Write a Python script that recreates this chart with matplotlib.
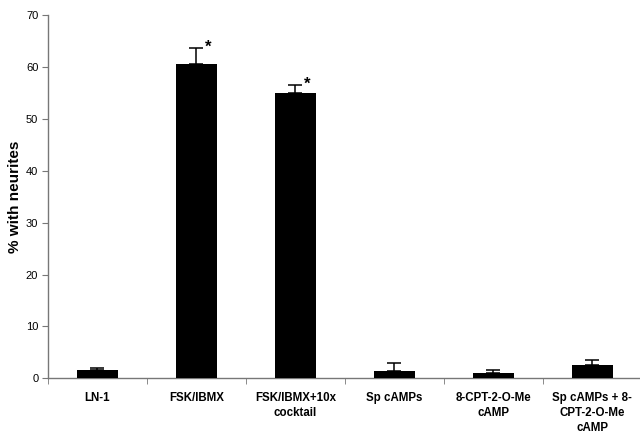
import matplotlib
matplotlib.use("Agg")
import matplotlib.pyplot as plt
import numpy as np

categories = ["LN-1", "FSK/IBMX", "FSK/IBMX+10x\ncocktail", "Sp cAMPs",
              "8-CPT-2-O-Me\ncAMP", "Sp cAMPs + 8-\nCPT-2-O-Me\ncAMP"]
values = [1.6, 60.5, 55.0, 1.5, 1.1, 2.5]
errors = [0.3, 3.2, 1.6, 1.4, 0.45, 1.0]
significant = [False, True, True, False, False, False]
yticks = [0, 10, 20, 30, 40, 50, 60, 70]

plt.rcParams['font.family'] = ['Liberation Sans', 'DejaVu Sans']

fig = plt.figure(figsize=(6.4, 4.33), dpi=100)
ax = fig.add_axes([0.075, 0.1263, 0.928, 0.8391])

x = np.arange(len(categories))
ax.bar(x, values, width=0.41, color='black', zorder=3)
ax.errorbar(x, values, yerr=[np.zeros(len(errors)), errors], fmt='none',
            ecolor='black', elinewidth=1.1, capsize=5, capthick=1.1, zorder=4)
for xi, v, e, s in zip(x, values, errors, significant):
    if s:
        ax.text(xi + 0.12, v + e - 1.4, "*", ha='center', va='bottom',
                fontsize=12, fontweight='bold')

ax.set_xlim(-0.5, len(categories) - 0.5)
ax.set_ylim(0, 70)
ax.set_yticks(yticks)
ax.set_yticklabels([str(t) for t in yticks], fontsize=8)
ax.set_xticks(x)
ax.set_xticklabels(categories, fontsize=8.3, fontweight='bold', linespacing=1.36)
ax.set_xticks(np.arange(len(categories) + 1) - 0.5, minor=True)
ax.tick_params(axis='x', which='major', length=0, pad=9.5)
ax.tick_params(axis='x', which='minor', length=4, color='#777777', direction='out')
ax.tick_params(axis='y', length=4, color='#777777', direction='out', pad=3)
ax.set_ylabel("% with neurites", fontsize=11, fontweight='bold', labelpad=3)

for sp in ['top', 'right']:
    ax.spines[sp].set_visible(False)
for sp in ['left', 'bottom']:
    ax.spines[sp].set_color('#777777')
    ax.spines[sp].set_linewidth(1.0)

fig.savefig("out.png", dpi=100)
